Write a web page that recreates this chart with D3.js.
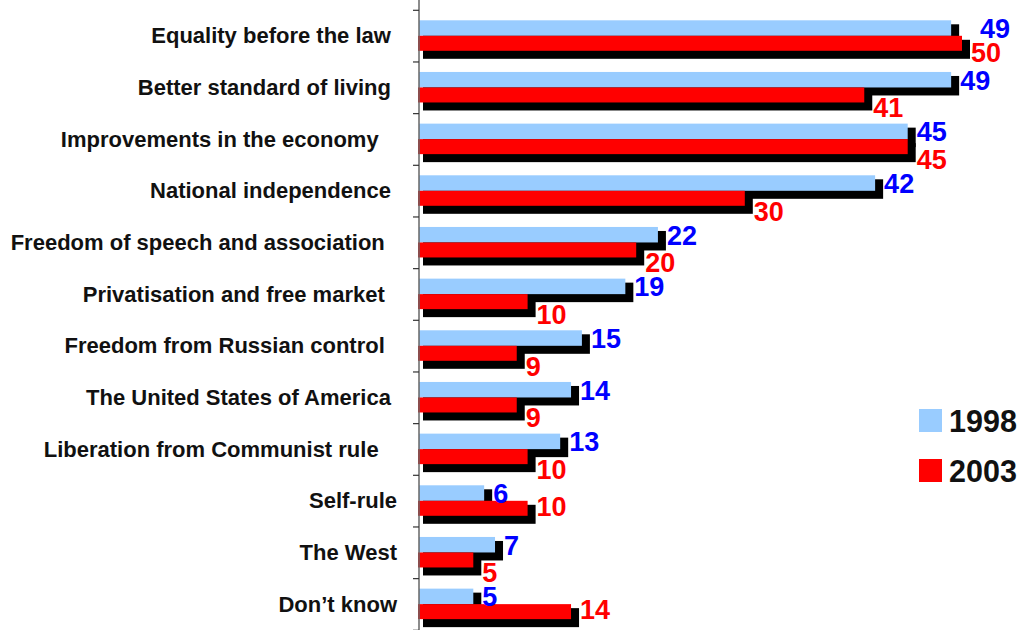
<!DOCTYPE html>
<html>
<head>
<meta charset="utf-8">
<script src="https://cdn.jsdelivr.net/npm/d3@7"></script>
<style>
  html, body { margin: 0; padding: 0; background: #fff; }
  svg { display: block; }
  text { font-family: "Liberation Sans", Arial, sans-serif; font-weight: bold; }
</style>
</head>
<body>
<svg id="chart" width="1020" height="630"></svg>
<script>
// Survey answers, one row per category (trailing spaces kept as typed)
const categories = [
  "Equality before the law ",
  "Better standard of living ",
  "Improvements in the economy   ",
  "National independence ",
  "Freedom of speech and association  ",
  "Privatisation and free market  ",
  "Freedom from Russian control  ",
  "The United States of America ",
  "Liberation from Communist rule   ",
  "Self-rule",
  "The West",
  "Don\u2019t know"
];
const values1998 = [49, 49, 45, 42, 22, 19, 15, 14, 13, 6, 7, 5];
const values2003 = [50, 41, 45, 30, 20, 10, 9, 9, 10, 10, 5, 14];
const seriesNames = ["1998", "2003"];

const colors = { "1998": "#99CCFF", "2003": "#FF0000" };
const labelColors = { "1998": "#0000FF", "2003": "#FF0000" };

const svg = d3.select("#chart");

const x = d3.scaleLinear().domain([0, 50]).range([419, 962]);
const y = d3.scaleBand().domain(categories).range([10.3, 630.3]).paddingInner(0).paddingOuter(0);

const rows = categories.map((c, i) => ({ cat: c, v98: values1998[i], v03: values2003[i] }));

const barTop98 = d => y(d.cat) + 10;
const barTop03 = d => y(d.cat) + 25.5;
const h98 = 15.5, h03 = 15;

// drop shadows behind each bar
const shadows = svg.append("g").attr("fill", "#000");
shadows.selectAll("rect.s98").data(rows).join("rect")
  .attr("x", x(0) + 4)
  .attr("y", d => barTop98(d) + 4)
  .attr("width", d => x(d.v98) + 8 - (x(0) + 4))
  .attr("height", h98 + 4);
shadows.selectAll("rect.s03").data(rows).join("rect")
  .attr("x", x(0) + 4)
  .attr("y", d => barTop03(d) + 4)
  .attr("width", d => x(d.v03) + 8 - (x(0) + 4))
  .attr("height", h03 + 4);

// bars
const bars = svg.append("g");
bars.selectAll("rect.b98").data(rows).join("rect")
  .attr("x", x(0))
  .attr("y", barTop98)
  .attr("width", d => x(d.v98) - x(0))
  .attr("height", h98)
  .attr("fill", colors["1998"]);
bars.selectAll("rect.b03").data(rows).join("rect")
  .attr("x", x(0) - 1)
  .attr("y", barTop03)
  .attr("width", d => x(d.v03) - x(0) + 1)
  .attr("height", h03)
  .attr("fill", colors["2003"]);

// value labels
const capHalf = 9.8;
const labels = svg.append("g").attr("font-size", 27);
labels.selectAll("text.l98").data(rows).join("text")
  .attr("x", d => {
    // step clear of a slightly longer 2003 bar
    const gap = d.v03 - d.v98;
    return (gap > 0 && gap <= 3) ? x(d.v03) + 18 : x(d.v98) + 9;
  })
  .attr("y", d => barTop98(d) + h98 / 2 + capHalf)
  .attr("fill", labelColors["1998"])
  .text(d => d.v98);
labels.selectAll("text.l03").data(rows).join("text")
  .attr("x", d => x(d.v03) + 9)
  .attr("y", d => {
    const gap = d.v03 - d.v98;
    let centre;
    if (gap > 3) centre = barTop03(d) + h03 / 2 - 2;      // longest bar: beside it
    else if (gap > 0) centre = barTop03(d) + h03 + 1;
    else centre = barTop03(d) + h03 + 5;                  // below the 1998 label
    return centre + capHalf;
  })
  .attr("fill", labelColors["2003"])
  .text(d => d.v03);

// category axis
const gAxis = svg.append("g").attr("transform", `translate(${x(0)},0)`);
gAxis.append("line")
  .attr("x1", 0).attr("x2", 0).attr("y1", 0).attr("y2", 630)
  .attr("stroke", "#666").attr("stroke-width", 1.5);

// tick marks on the band boundaries
const bounds = categories.map(c => y(c)).concat([y.range()[1]]);
gAxis.selectAll("line.tick-b").data(bounds).join("line")
  .attr("x1", -6).attr("x2", 0)
  .attr("y1", d => d).attr("y2", d => d)
  .attr("stroke", "#333").attr("stroke-width", 1.2);

// category names
svg.append("g").selectAll("text").data(categories).join("text")
  .attr("x", 397)
  .attr("y", d => y(d) + 25.5 + 7.5)
  .attr("text-anchor", "end")
  .attr("font-size", 22)
  .attr("fill", "#111")
  .style("white-space", "pre")
  .text(d => d);

// legend
const legend = svg.append("g");
const legendRows = legend.selectAll("g").data(seriesNames).join("g")
  .attr("transform", (d, i) => `translate(919,${409 + i * 50})`);
legendRows.append("rect")
  .attr("width", 23).attr("height", 23)
  .attr("fill", d => colors[d]);
legendRows.append("text")
  .attr("x", 30).attr("y", 23)
  .attr("font-size", 30.5)
  .attr("fill", "#111")
  .text(d => d);
</script>
</body>
</html>
